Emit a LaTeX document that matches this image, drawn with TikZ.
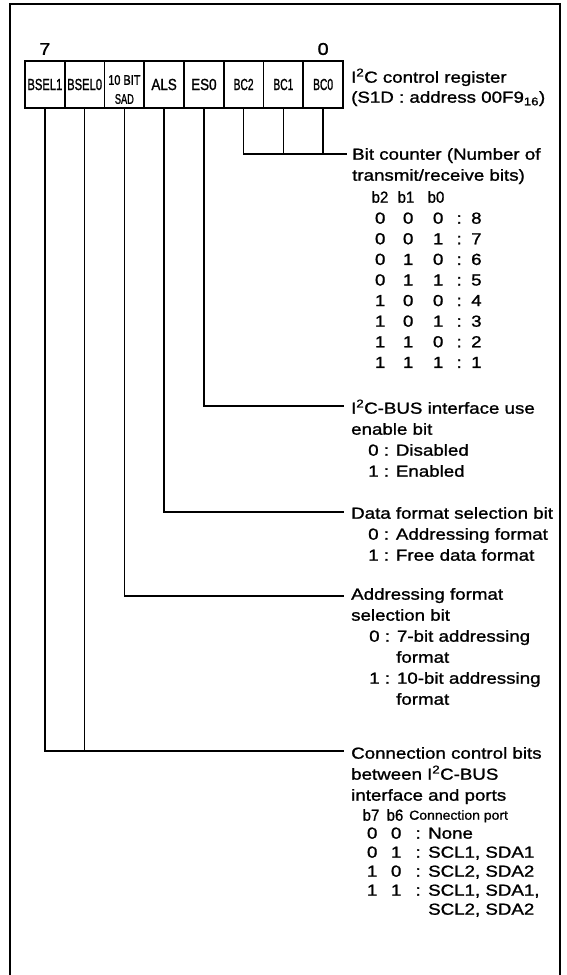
\documentclass[tikz,border=0pt]{standalone}
\usepackage{fontspec}
\usepackage{graphicx}
\setmainfont{Liberation Sans}[FakeStretch=1.17, FakeBold=1.2]
\newfontfamily\cellfont{Liberation Sans}[FakeBold=1.5]
\newcommand\hs[2]{\scalebox{#1}[1]{#2}}
\newcommand\bcrow[4]{\makebox[14pt]{#1}\makebox[42pt]{#2}\makebox[18pt]{#3}\makebox[24pt]{:}#4}
\newcommand\bsrow[3]{\makebox[14pt]{#1}\makebox[34pt]{#2}\makebox[10pt]{:}\hspace{5pt}#3}
\tikzset{
  frame/.style={line width=2.3pt},
  cell/.style={draw, line width=1.7pt, minimum width=39.75pt, minimum height=47pt, inner sep=0pt},
  celltxt/.style={inner sep=0pt, anchor=center, font=\cellfont\fontsize{16}{19}\selectfont},
  conn/.style={line width=1.5pt},
  txt/.style={anchor=base west, inner sep=0pt, yshift=-5.7pt, font=\fontsize{16}{20}\selectfont},
  txtc/.style={anchor=base, inner sep=0pt, yshift=-5.7pt, font=\fontsize{16}{20}\selectfont},
  txtsmall/.style={anchor=base west, inner sep=0pt, yshift=-4.7pt, font=\fontsize{13}{16}\selectfont},
  numlab/.style={anchor=center, inner sep=0pt, font=\fontsize{17}{20}\selectfont}
}
\begin{document}
\begin{tikzpicture}[x=1pt,y=-1pt]
\useasboundingbox (0,0) rectangle (566,975);
\draw[frame] (10,975) -- (10,4) -- (560,4) -- (560,975);

% register cells
\node[cell] (bsel1) at (44.875,84.5) {};
\node[cell] (bsel0) at (84.625,84.5) {};
\node[cell] (sad)   at (124.375,84.5) {};
\node[cell] (als)   at (164.125,84.5) {};
\node[cell] (es0)   at (203.875,84.5) {};
\node[cell] (bc2)   at (243.625,84.5) {};
\node[cell] (bc1)   at (283.375,84.5) {};
\node[cell] (bc0)   at (323.125,84.5) {};

\node[celltxt] (lbsel1) at (bsel1.center) {\hs{0.70}{BSEL1}};
\node[celltxt] (lbsel0) at (bsel0.center) {\hs{0.70}{BSEL0}};
\node[celltxt, align=center, font=\cellfont\fontsize{14}{19}\selectfont] (lsad) at (124.375,89.5) {\hs{0.78}{10 BIT}\\\hs{0.66}{SAD}};
\node[celltxt] (lals) at (als.center) {\hs{0.84}{ALS}};
\node[celltxt] (les0) at (es0.center) {\hs{0.84}{ES0}};
\node[celltxt] (lbc2) at (bc2.center) {\hs{0.64}{BC2}};
\node[celltxt] (lbc1) at (bc1.center) {\hs{0.64}{BC1}};
\node[celltxt] (lbc0) at (bc0.center) {\hs{0.64}{BC0}};

\node[numlab] (n7) at (44.875,49) {7};
\node[numlab] (n0) at (323.125,49) {0};

\node[txt] (hdr1) at (351,77) {I\textsuperscript{2}C control register};
\node[txt] (hdr2) at (351,97) {(S1D : address 00F9\textsubscript{16})};

% connectors
\coordinate (bcE) at (347,154);
\coordinate (esE) at (344,406);
\coordinate (alsE) at (344,512);
\coordinate (sadE) at (344,596);
\coordinate (bselE) at (344,751);
\draw[conn] (bc2.south) |- (bcE);
\draw[conn] (bc1.south) -- (bc1.south |- bcE);
\draw[conn] (bc0.south) -- (bc0.south |- bcE);
\draw[conn] (es0.south) |- (esE);
\draw[conn] (als.south) |- (alsE);
\draw[conn] (sad.south) |- (sadE);
\draw[conn] (bsel1.south) |- (bselE);
\draw[conn] (bsel0.south) -- (bsel0.south |- bselE);

% bit counter
\node[txt] (bct1) at (352,154) {Bit counter (Number of};
\node[txt] (bct2) at (352,175) {transmit/receive bits)};
\node[txtc] (bch2) at (380,197) {\hs{0.8}{b2}};
\node[txtc] (bch1) at (406,197) {\hs{0.8}{b1}};
\node[txtc] (bch0) at (436,197) {\hs{0.8}{b0}};
\foreach \a/\b/\c/\v [count=\k from 0] in {0/0/0/8,0/0/1/7,0/1/0/6,0/1/1/5,1/0/0/4,1/0/1/3,1/1/0/2,1/1/1/1}
  \node[txt] (bcr\k) at (373,{218+20.6*\k}) {\bcrow{\a}{\b}{\c}{\v}};

% ES0
\node[txt] (es1) at (351,408) {I\textsuperscript{2}C-BUS interface use};
\node[txt] (es2) at (351,429) {enable bit};
\node[txt] (es3) at (368,450) {0 : Disabled};
\node[txt] (es4) at (368,471) {1 : Enabled};

% ALS
\node[txt] (al1) at (351,513) {Data format selection bit};
\node[txt] (al2) at (368,534) {0 : Addressing format};
\node[txt] (al3) at (368,555) {1 : Free data format};

% SAD
\node[txt] (sa1) at (351,594) {Addressing format};
\node[txt] (sa2) at (351,615) {selection bit};
\node[txt] (sa3) at (369,636) {0 : 7-bit addressing};
\node[txt] (sa4) at (396,657) {format};
\node[txt] (sa5) at (369,678) {1 : 10-bit addressing};
\node[txt] (sa6) at (396,699) {format};

% BSEL
\node[txt] (bs1) at (351,753) {Connection control bits};
\node[txt] (bs2) at (351,774) {between I\textsuperscript{2}C-BUS};
\node[txt] (bs3) at (351,795) {interface and ports};
\node[txtc] (bsh7) at (371,815) {\hs{0.8}{b7}};
\node[txtc] (bsh6) at (395,815) {\hs{0.8}{b6}};
\node[txtsmall] (bshd2) at (409,815) {\hs{0.92}{Connection port}};
\node[txt] (bsr0) at (365,833) {\bsrow{0}{0}{None}};
\node[txt] (bsr1) at (365,852) {\bsrow{0}{1}{SCL1, SDA1}};
\node[txt] (bsr2) at (365,871) {\bsrow{1}{0}{SCL2, SDA2}};
\node[txt] (bsr3) at (365,890) {\bsrow{1}{1}{SCL1, SDA1,}};
\node[txt] (bsr4) at (428,909) {SCL2, SDA2};
\end{tikzpicture}
\end{document}
